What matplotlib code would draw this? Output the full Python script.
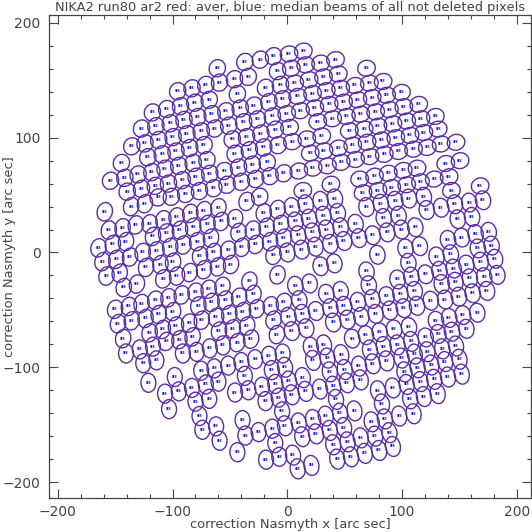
import matplotlib
matplotlib.use("Agg")
import matplotlib.pyplot as plt
from matplotlib.patches import Ellipse
from matplotlib.ticker import MultipleLocator

title = "NIKA2 run80 ar2 red: aver, blue: median beams of all not deleted pixels"
xlabel = "correction Nasmyth x [arc sec]"
ylabel = "correction Nasmyth y [arc sec]"
beam_label = "888"

upper_left_x = [-61,-37,-23.5,-12,-8.5,-34,-46,-59,-71,-83,-95.5,-19,-6,-43.5,-4,-16,-29,-41,-53.5,-68,-80.5,-93,-105,-117.5,
 -13,-26,-38,-51,-65.5,-78,-90,-102,-114.5,-127,-10.5,-23,-35.5,-48,-63,-75,-87.5,-99.5,-112,-124,-135.5,
 -8,-20.5,-33,-45.5,-72.5,-85,-97,-109,-121.5,-17.5,-30.5,-42.5,-55,-70,-82,-94.5,-106.5,-118,-130,-144.5,
 -3,-15,-27.5,-40,-52.5,-67.5,-79.5,-91.5,-103.5,-115,-127,-141.5,-154,-139.5,-64,-76.5,-88.5,-101,-112.5,-24]
upper_left_y = [160.5,166,168,171,158,153,151,148,146,143,140.5,143.5,146,138,133.5,131,128,125.5,123,133,130.5,127.5,125,122,
 118.5,116,113.5,110.5,120.5,118,115.5,112.5,110,108,107,103.5,100.5,98.5,108,105.5,103,100.5,98,95,92.5,
 93.5,91.5,89,86,93.5,91,88,85.5,83,78.5,76.5,74,71,80.5,78,75.5,73,70,68,78,
 69,66.5,64,61.5,59,68.5,66,63,60,58,55.5,65,62.5,53,56,53.5,51,48.5,48,48.5]

upper_right_x = [1.5,14,29,42,3.5,16,69,6.5,19,31.5,44.5,83.5,71.5,59,22,34,46.5,99.5,86.5,74,61.5,49,36.5,24,11.5,9,-0.5,
 114.5,101.5,89,77,64,51.5,39.5,26.5,129,116.5,104,92,79,67,54,2,131.5,119,107,94.5,82,69.5,57,44.5,32,20,30,17,4.5,
 147,134,122,110,97,84.5,72,59.5,47,35,22.5,10,150.5,138,113,101,88,76,63,141,128,116,104,91,79,66,38,13.5,143,168]
upper_right_y = [173,175.5,165,168,160.5,163.5,160.5,147.5,150.5,153,155.5,149,147.5,145.5,138.5,141,143,139.5,137,135,133,131,129,126,123.5,136,121,
 129,127,124.5,122.5,120.5,118.5,116.5,114,118.5,116.5,114.5,112,110,107.5,106,109,107.5,104.5,102,100,98,96,93.5,91,88.5,86.5,101.5,99,96.5,
 96,94.5,91.5,90,88,85.5,83.5,81,78.5,75.5,73.5,71,80,77.5,73.5,71.5,69,66.5,64,66,64,61.5,59,56.5,54,52,59.5,54,54,58]

middle_left_x = [-136,-124,-35.5,-159,-8.5,-20.5,-84.5,-72.5,-60,-96.5,-108,-45.5,-57.5,-69.5,-82,-93.5,-105.5,-120,-132,-143.5,-155.5,
 -5.5,-18,-30,-42.5,-66.5,-78.5,-90.5,-102,-114,-126,-140.5,-152,-164.5,-117,-3,-15,-27.5,-39.5,-51.5,-64,
 -12,-76,-137,-149,-161,-99.5,-110.5,-123,-146,-157.5,-49,-60.5,-72.5,-85,-96,-108,-8.5,-131,-142.5,-33,
 -56.5,-68.5,-80,-92,-103.5,-115,-127,-138,-150,-29.5,-42,-54,-66,-77.5,-99.5,-112,-123.5,-135.5,-147.5,
 -3,-14.5,-26.5,-38.5,-50.5,-62,-74.5,-85.5,-12,-35,-47.5,-59.5,-97,-108.5,-120,-143,-9,-82.5,-94,-105.5,-31.5,-43.5]
middle_left_y = [40,42.5,44.5,35.5,37.5,34.5,34,36.5,39,31,28.5,29.5,27,24.5,22,19.5,17,25,24,21.5,19.5,
 24.5,22,19.5,17.5,12.5,9.5,6.5,4.5,1.5,0,9.5,7,4,14,12.5,9.5,7,4.5,2,0,
 -2.5,-3,-4,-6,-8,-8.5,-10.5,-13,-18,-20.5,-10.5,-12.5,-15,-17.5,-20.5,-23,-19.5,-27.5,-30.5,-25,
 -29.5,-32,-34.5,-37,-39.5,-41.5,-44.5,-47,-49.5,-36.5,-39,-41.5,-43.5,-46.5,-51.5,-54,-57.5,-59.5,-62,
 -43.5,-46.5,-49,-51.5,-54,-56.5,-59,-61.5,-59,-64,-66.5,-68.5,-64,-67,-70,-75,-71.5,-73.5,-76,-77.5,-75.5,-78.5]

middle_right_x = [41.5,29,16,4,106,119,94,81.5,69,170.5,158.5,146,134,121.5,44,31.5,19,7,97,84,148.5,161,
 59.5,46.5,34,22,9.5,111.5,99.5,87,74.5,62.5,49.5,37.5,24.5,12.5,0,175.5,164,152,140,178,166,115.5,103,
 78.5,142.5,130,181,168.5,156,105.5,41,29,145,132.5,183,171.5,159,146.5,134.5,120.5,108,96,69,19.5,7,71,46.5,34,
 174,161.5,149.5,137.5,125,111,98.5,86.5,74,10.5,61.5,49.5,37.5,113,101.5,89.5,77,64.5,25,13,1,
 165.5,153,141,129.5,52.5,40,16.5,4,156,143.5,131.5,120.5,106,93,80.5,68.5,56.5]
middle_right_y = [47,45,42,39.5,47,48.5,45,42.5,39.5,45.5,43.5,42,39,37,34.5,32,29.5,27,32,30,29,31,
 25,22,20,17.5,15,22,20,17.5,15,12.5,10,7.5,5,2.5,0,18,16,13,11,6,3.5,5.5,3.5,
 -2,-1.5,-3.5,-5.5,-8,-10.5,-9,-9.5,-12,-14,-16,-19.5,-21.5,-22.5,-25.5,-27.5,-19,-21,-23.5,-16.5,-27,-29,-28.5,-33.5,-36,
 -33.5,-35.5,-38.5,-41,-42,-33.5,-36,-38,-40.5,-41.5,-43,-46.5,-48.5,-46.5,-48.5,-50.5,-53.5,-56,-51,-53.5,-56,
 -52.5,-54.5,-57,-59.5,-58.5,-61,-66,-68.5,-66.5,-69,-71,-74,-65,-67,-69.5,-72,-75]

lower_left_x = [-117,-128.5,-140.5,-91,-79,-67.5,-56,-4,-16,-28,-40,-51.5,-63.5,-75,-125.5,-114,-13.5,-37,-98,-121,
 -60,-71,-83,-94.5,-106.5,-10.5,-22,-34,-45.5,-68,-80,-7.5,-19,-103,-76.5,-4.5,-39,-62,-74,-13,-25,-36.5,-59,-10.5,-43.5,-7,-18.5]
lower_left_y = [-82,-84.5,-88,-88,-86.5,-83.5,-81,-88,-90,-93,-95.5,-98.5,-101,-103,-96.5,-94,-102.5,-107.5,-108.5,-113.5,
 -112.5,-115,-118,-121,-123,-114.5,-117,-120,-122,-127.5,-130,-126.5,-129.5,-136.5,-142.5,-138.5,-146,-151.5,-154.5,-153.5,-156.5,-159.5,-164,-166,-174,-178,-180.5]

lower_right_x = [20.5,32,72,84,96,108,122,135,147,22.5,35,47,74.5,86.5,99.5,111,125.5,137.5,150,-2,37,50,62.5,102,113.5,
 140,152,128,116,104,92,79,64,52,40,13.5,1.5,28.5,16,4,131,119,107,42.5,82.5,58.5,110,97.5,85,73.5,46,33.5,22.5,10,-2,
 49.5,37,25,13,89,76.5,64,52.5,40,92,80,67.5,55.5,43.5,5,21,9]
lower_right_y = [-82.5,-80.5,-85,-82,-80.5,-77.5,-86.5,-84,-81.5,-94,-92,-89,-97,-94.5,-92,-88.5,-98,-95,-93,-100,-104,-102,-99,-104,-100.5,
 -108.5,-106,-110.5,-112.5,-115,-118,-120.5,-111,-113.5,-116.5,-109,-112,-119,-121,-124,-123,-125.5,-127.5,-128,-132,-138,-140.5,-142.5,-145,-147.5,-140,-142.5,-145.5,-148.5,-151,
 -152.5,-155,-158,-160.5,-157,-160,-161.5,-165,-167.5,-169,-172.5,-175,-178,-180,-176.5,-185.5,-188.5]

regions = [
    (upper_left_x, upper_left_y, 15.2, 14.0, 65),
    (upper_right_x, upper_right_y, 15.4, 13.8, 15),
    (middle_left_x, middle_left_y, 16.2, 13.2, 75),
    (middle_right_x, middle_right_y, 16.5, 13.3, 100),
    (lower_left_x, lower_left_y, 16.6, 13.0, 92),
    (lower_right_x, lower_right_y, 17.5, 13.0, 100),
]

fig = plt.figure(figsize=(5.32, 5.32), dpi=100)
ax = fig.add_axes([49/532, 1-498/532, 482/532, 483/532])
ink = "#444444"
for xs, ys, major, minor, tilt in regions:
    for x, y in zip(xs, ys):
        ax.add_patch(Ellipse((x, y), major, minor, angle=tilt, fill=False,
                             edgecolor="#5a2ca8", linewidth=1.0))
        ax.text(x, y, beam_label, color="#1010e0", fontsize=1.9, fontweight="bold",
                ha="center", va="center")

ax.set_xlim(-207.6, 212.3)
ax.set_ylim(-213.9, 206.9)
ax.xaxis.set_major_locator(MultipleLocator(100))
ax.xaxis.set_minor_locator(MultipleLocator(20))
ax.yaxis.set_major_locator(MultipleLocator(100))
ax.yaxis.set_minor_locator(MultipleLocator(20))
ax.tick_params(which="major", direction="in", top=True, right=True, length=6.5, width=0.8,
               color=ink, labelcolor=ink, labelsize=10, pad=5)
ax.tick_params(which="minor", direction="in", top=True, right=True, length=3.2, width=0.8, color=ink)
ax.tick_params(axis="y", which="major", pad=6)
for s in ax.spines.values():
    s.set_color(ink)
    s.set_linewidth(0.9)
ax.set_xlabel(xlabel, fontsize=9.4, color=ink)
ax.set_ylabel(ylabel, fontsize=9.4, color=ink)
ax.xaxis.set_label_coords(0.5, -0.042)
ax.yaxis.set_label_coords(-0.068, 0.5)
ax.set_title(title, fontsize=9.4, color=ink, pad=3)
fig.savefig("out.png", dpi=100)
